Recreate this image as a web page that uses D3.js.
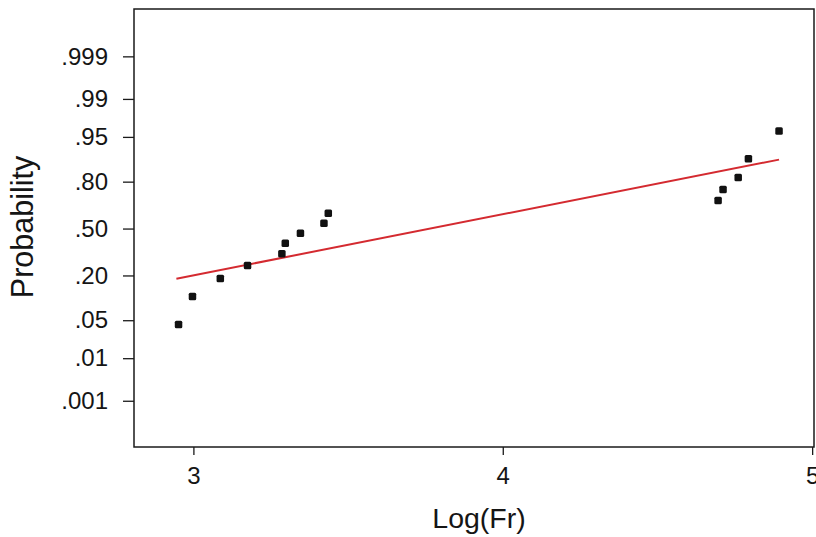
<!DOCTYPE html>
<html>
<head>
<meta charset="utf-8">
<script src="https://cdn.jsdelivr.net/npm/d3@7"></script>
<style>
  html, body { margin: 0; padding: 0; background: #fff; }
  svg { display: block; font-family: "Liberation Sans", Arial, sans-serif; }
</style>
</head>
<body>
<svg id="chart" width="816" height="537"></svg>
<script>
// ---- data ----
const logFr = [2.952, 2.997, 3.087, 3.175, 3.286, 3.297, 3.346, 3.422, 3.436,
               4.696, 4.712, 4.761, 4.794, 4.893];
const probability = [0.0427, 0.1115, 0.185, 0.254, 0.325, 0.396, 0.466, 0.538, 0.608,
                     0.692, 0.758, 0.820, 0.895, 0.960];
const fitX = [2.945, 4.893];
const fitP = [0.184, 0.892];
const yTicks = [0.001, 0.01, 0.05, 0.20, 0.50, 0.80, 0.95, 0.99, 0.999];
const yTickLabels = [".001", ".01", ".05", ".20", ".50", ".80", ".95", ".99", ".999"];
const xTicks = [3, 4, 5];

// inverse standard normal CDF (Acklam) for the probability-axis transform
function probit(p) {
  const a = [-3.969683028665376e+01, 2.209460984245205e+02, -2.759285104469687e+02,
             1.383577518672690e+02, -3.066479806614716e+01, 2.506628277459239e+00];
  const b = [-5.447609879822406e+01, 1.615858368580409e+02, -1.556989798598866e+02,
             6.680131188771972e+01, -1.328068155288572e+01];
  const c = [-7.784894002430293e-03, -3.223964580411365e-01, -2.400758277161838e+00,
             -2.549732539343734e+00, 4.374664141464968e+00, 2.938163982698783e+00];
  const d = [7.784695709041462e-03, 3.224671290700398e-01, 2.445134137142996e+00,
             3.754408661907416e+00];
  const pl = 0.02425, ph = 1 - pl;
  let q, r;
  if (p < pl) {
    q = Math.sqrt(-2 * Math.log(p));
    return (((((c[0]*q+c[1])*q+c[2])*q+c[3])*q+c[4])*q+c[5]) /
           ((((d[0]*q+d[1])*q+d[2])*q+d[3])*q+1);
  } else if (p <= ph) {
    q = p - 0.5; r = q * q;
    return (((((a[0]*r+a[1])*r+a[2])*r+a[3])*r+a[4])*r+a[5])*q /
           (((((b[0]*r+b[1])*r+b[2])*r+b[3])*r+b[4])*r+1);
  } else {
    q = Math.sqrt(-2 * Math.log(1 - p));
    return -(((((c[0]*q+c[1])*q+c[2])*q+c[3])*q+c[4])*q+c[5]) /
            ((((d[0]*q+d[1])*q+d[2])*q+d[3])*q+1);
  }
}

// ---- layout ----
const L = 134, R = 814, T = 9, B = 447;
const svg = d3.select("#chart");

const x = d3.scaleLinear().domain([2.808, 5.006]).range([L, R]);
const z = d3.scaleLinear().domain([-3.92, 3.94]).range([B, T]);
const y = p => z(probit(p));

const axisColor = "#1a1a1a";
const textColor = "#151515";

// frame
svg.append("rect")
  .attr("x", L).attr("y", T).attr("width", R - L).attr("height", B - T)
  .attr("fill", "none").attr("stroke", axisColor).attr("stroke-width", 1.5);

// y axis
const yAxis = d3.axisLeft(z)
  .tickValues(yTicks.map(probit))
  .tickFormat((d, i) => yTickLabels[i])
  .tickSize(11).tickPadding(15);
const gy = svg.append("g").attr("transform", `translate(${L},0)`).call(yAxis);
gy.select(".domain").remove();
gy.selectAll(".tick line").attr("stroke", axisColor).attr("stroke-width", 1.3);
gy.selectAll(".tick text").attr("fill", textColor).style("font-size", "24px")
  .style("font-family", "'Liberation Sans', Arial, sans-serif");

// x axis
const xAxis = d3.axisBottom(x).tickValues(xTicks).tickFormat(d3.format("d"))
  .tickSize(8).tickPadding(12);
const gx = svg.append("g").attr("transform", `translate(0,${B})`).call(xAxis);
gx.select(".domain").remove();
gx.selectAll(".tick line").attr("stroke", axisColor).attr("stroke-width", 1.3);
gx.selectAll(".tick text").attr("fill", textColor).style("font-size", "24px")
  .style("font-family", "'Liberation Sans', Arial, sans-serif");

// axis titles
svg.append("text")
  .attr("x", 479).attr("y", 528)
  .attr("text-anchor", "middle")
  .attr("fill", textColor)
  .style("font-size", "28.5px")
  .text("Log(Fr)");

svg.append("text")
  .attr("transform", "translate(33,227) rotate(-90)")
  .attr("text-anchor", "middle")
  .attr("fill", textColor)
  .style("font-size", "30.5px")
  .text("Probability");

// fitted line
const fit = fitX.map((v, i) => ({ x: v, p: fitP[i] }));
svg.append("path")
  .datum(fit)
  .attr("d", d3.line().x(d => x(d.x)).y(d => y(d.p)))
  .attr("fill", "none")
  .attr("stroke", "#d42a30")
  .attr("stroke-width", 2);

// points
const pts = logFr.map((v, i) => ({ x: v, p: probability[i] }));
const s = 7.5;
svg.append("g").selectAll("rect")
  .data(pts)
  .join("rect")
  .attr("x", d => x(d.x) - s / 2)
  .attr("y", d => y(d.p) - s / 2)
  .attr("width", s).attr("height", s)
  .attr("rx", 1.5)
  .attr("fill", "#111");
</script>
</body>
</html>
